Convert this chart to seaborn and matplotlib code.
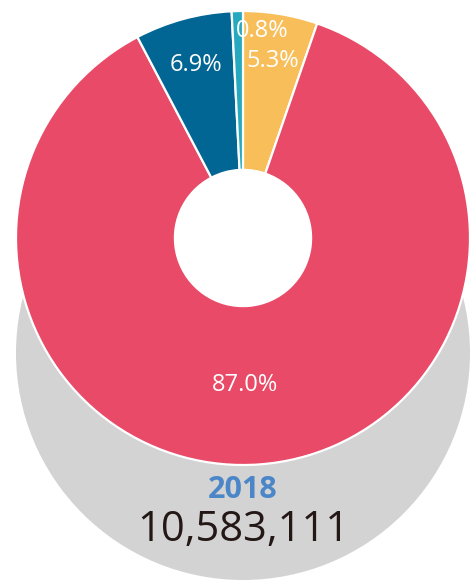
import numpy as np
import seaborn as sns
import matplotlib.pyplot as plt
from matplotlib.patches import Circle

# shares, clockwise from 12 o'clock
shares = [5.3, 87.0, 6.9, 0.8]
share_labels = ['5.3%', '87.0%', '6.9%', '0.8%']
colors = ['#F7BE5A', '#E84A67', '#026695', '#26A9BF']
year = '2018'
total = '10,583,111'

# label placement (fraction of radius, horizontal nudge in px)
label_dist = [0.79, 0.65, 0.79, 0.91]
label_nudge = [0, -9, 0, 24]

sns.set_theme(style='white')
plt.rcParams['font.family'] = ['Open Sans', 'DejaVu Sans']

fig = plt.figure(figsize=(4.71, 5.81), dpi=100)
ax = fig.add_axes([0, 0, 1, 1])

cx, cy, R = 243, 343, 227
hole = 0.30

# grey disc behind the donut, white hole on top of it
ax.add_patch(Circle((cx, cy - 115), R, color='#D3D3D3', zorder=0, lw=0))
ax.add_patch(Circle((cx, cy), hole * R, color='white', zorder=1, lw=0))

wedges, _ = ax.pie(shares, colors=colors, startangle=90, counterclock=False,
                   center=(cx, cy), radius=R,
                   wedgeprops=dict(width=(1 - hole) * R, edgecolor='white', linewidth=1.6))
for w in wedges:
    w.set_zorder(2)

for w, lab, d, dx in zip(wedges, share_labels, label_dist, label_nudge):
    ang = np.deg2rad((w.theta1 + w.theta2) / 2)
    x = cx + d * R * np.cos(ang) + dx
    y = cy + d * R * np.sin(ang)
    ax.text(x, y, lab, color='white', fontsize=17, ha='center', va='center', zorder=3)

ax.text(cx, 91, year, color='#4A86C8', fontsize=22, fontweight='bold',
        ha='center', va='center', zorder=3)
ax.text(cx, 51, total, color='#231815', fontsize=30, ha='center', va='center', zorder=3)

ax.set_xlim(0, 471)
ax.set_ylim(0, 581)
ax.set_aspect('equal')
ax.axis('off')

fig.savefig('out.png', dpi=100)
